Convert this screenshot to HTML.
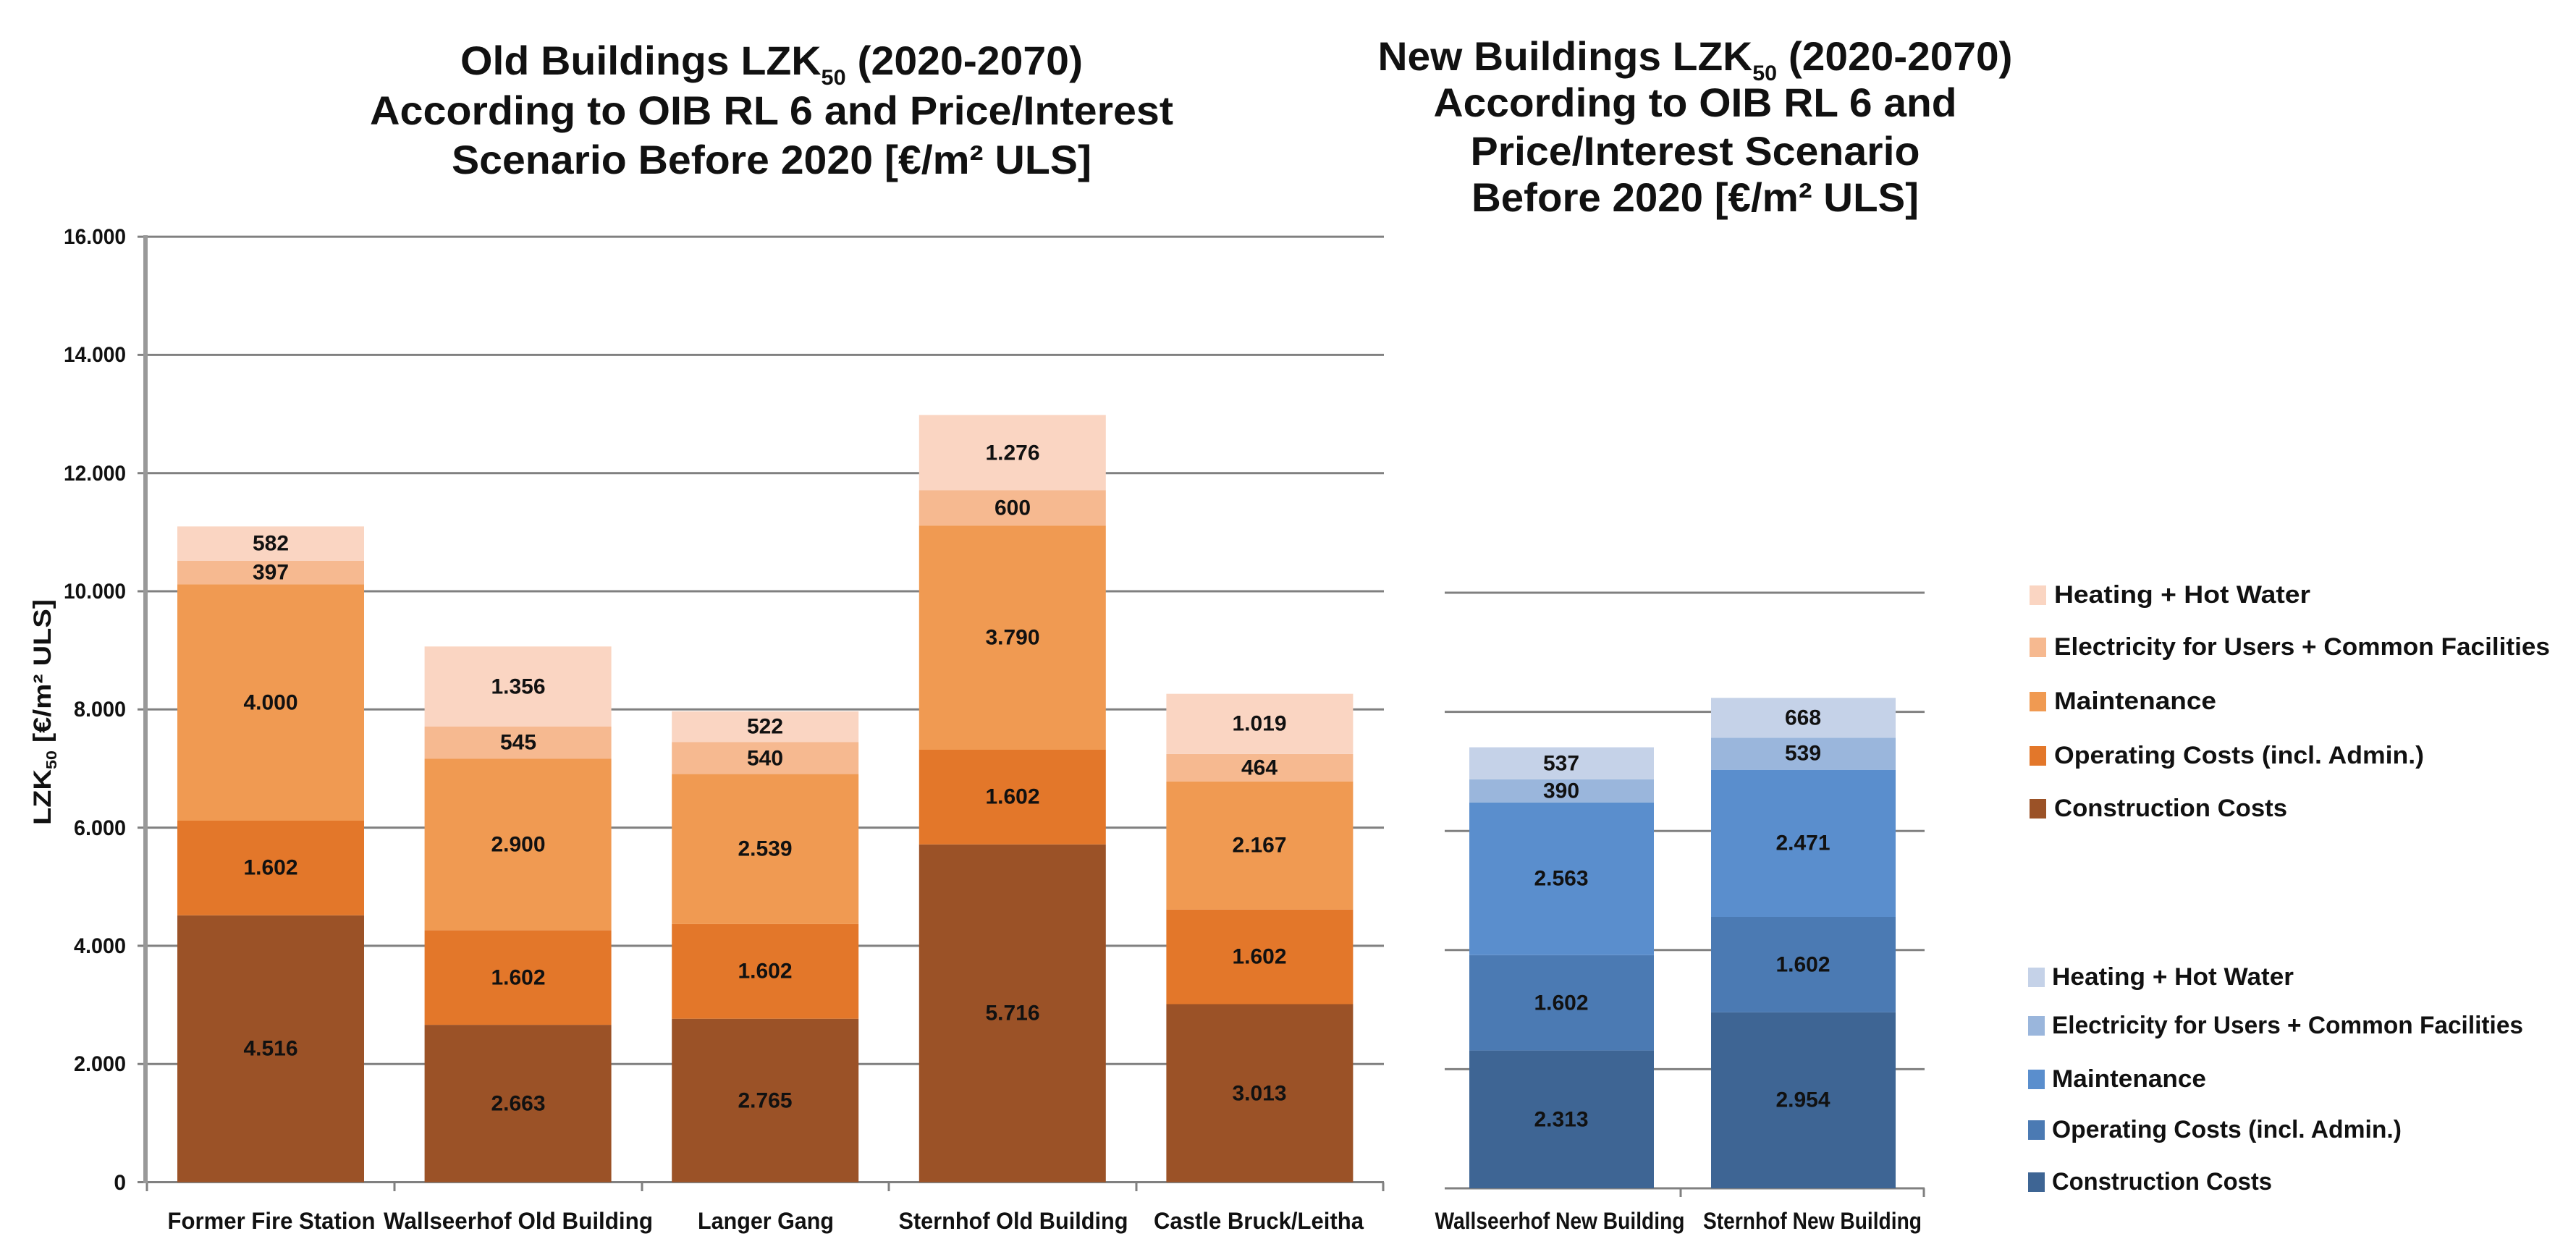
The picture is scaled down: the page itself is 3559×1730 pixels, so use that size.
<!DOCTYPE html>
<html><head><meta charset="utf-8"><style>
html,body{margin:0;padding:0;background:#fff;}
svg{display:block;}
text{font-family:"Liberation Sans",Arial,sans-serif;font-weight:bold;fill:#111;}
.t{font-size:56px;}
.lab{font-size:30px;}
.cat{font-size:32px;}
.tick{font-size:30px;}
.leg{font-size:34px;}
</style></head><body>
<svg width="3559" height="1730" viewBox="0 0 3559 1730" xmlns="http://www.w3.org/2000/svg">
<rect width="3559" height="1730" fill="#fff"/>
<!-- Titles -->
<text class="t" x="1066" y="103" text-anchor="middle" textLength="860" lengthAdjust="spacingAndGlyphs">Old Buildings LZK<tspan font-size="30" dy="14">50</tspan><tspan dy="-14"> (2020-2070)</tspan></text>
<text class="t" x="1066" y="172" text-anchor="middle" textLength="1110" lengthAdjust="spacingAndGlyphs">According to OIB RL 6 and Price/Interest</text>
<text class="t" x="1066" y="240" text-anchor="middle" textLength="884" lengthAdjust="spacingAndGlyphs">Scenario Before 2020 [€/m² ULS]</text>
<text class="t" x="2342" y="97" text-anchor="middle" textLength="877" lengthAdjust="spacingAndGlyphs">New Buildings LZK<tspan font-size="30" dy="14">50</tspan><tspan dy="-14"> (2020-2070)</tspan></text>
<text class="t" x="2342" y="161" text-anchor="middle" textLength="723" lengthAdjust="spacingAndGlyphs">According to OIB RL 6 and</text>
<text class="t" x="2342" y="228" text-anchor="middle" textLength="621" lengthAdjust="spacingAndGlyphs">Price/Interest Scenario</text>
<text class="t" x="2342" y="292" text-anchor="middle" textLength="618" lengthAdjust="spacingAndGlyphs">Before 2020 [€/m² ULS]</text>

<!-- Left gridlines -->
<g stroke="#808080" stroke-width="3">
<line x1="190" y1="327.1" x2="1912" y2="327.1"/>
<line x1="190" y1="490.4" x2="1912" y2="490.4"/>
<line x1="190" y1="653.7" x2="1912" y2="653.7"/>
<line x1="190" y1="817" x2="1912" y2="817"/>
<line x1="190" y1="980.3" x2="1912" y2="980.3"/>
<line x1="190" y1="1143.6" x2="1912" y2="1143.6"/>
<line x1="190" y1="1306.9" x2="1912" y2="1306.9"/>
<line x1="190" y1="1470.2" x2="1912" y2="1470.2"/>
<line x1="190" y1="1633.5" x2="1912" y2="1633.5"/>
<line x1="203" y1="1633.5" x2="203" y2="1646"/>
<line x1="545" y1="1633.5" x2="545" y2="1646"/>
<line x1="887" y1="1633.5" x2="887" y2="1646"/>
<line x1="1228" y1="1633.5" x2="1228" y2="1646"/>
<line x1="1570" y1="1633.5" x2="1570" y2="1646"/>
<line x1="1911" y1="1633.5" x2="1911" y2="1646"/>
</g>
<line x1="201" y1="325" x2="201" y2="1635" stroke="#999" stroke-width="6"/>
<!-- Y ticks -->
<g class="tick" text-anchor="end">
<text class="tick" x="174" y="337" textLength="86" lengthAdjust="spacingAndGlyphs">16.000</text>
<text class="tick" x="174" y="500" textLength="86" lengthAdjust="spacingAndGlyphs">14.000</text>
<text class="tick" x="174" y="664" textLength="86" lengthAdjust="spacingAndGlyphs">12.000</text>
<text class="tick" x="174" y="827" textLength="86" lengthAdjust="spacingAndGlyphs">10.000</text>
<text class="tick" x="174" y="990" textLength="72" lengthAdjust="spacingAndGlyphs">8.000</text>
<text class="tick" x="174" y="1154" textLength="72" lengthAdjust="spacingAndGlyphs">6.000</text>
<text class="tick" x="174" y="1317" textLength="72" lengthAdjust="spacingAndGlyphs">4.000</text>
<text class="tick" x="174" y="1480" textLength="72" lengthAdjust="spacingAndGlyphs">2.000</text>
<text class="tick" x="174" y="1644">0</text>
</g>
<text x="70" y="984" font-size="34" text-anchor="middle" transform="rotate(-90 70 984)" textLength="312" lengthAdjust="spacingAndGlyphs">LZK<tspan font-size="20" dy="8">50</tspan><tspan dy="-8"> [€/m² ULS]</tspan></text>

<!-- Left bars -->
<g>
<rect x="245" y="1264.8" width="258" height="368.7" fill="#9b5227"/>
<rect x="245" y="1134" width="258" height="130.8" fill="#e3772a"/>
<rect x="245" y="807.4" width="258" height="326.6" fill="#f09a52"/>
<rect x="245" y="775" width="258" height="32.4" fill="#f6b990"/>
<rect x="245" y="727.4" width="258" height="47.6" fill="#fad5c2"/>

<rect x="586.6" y="1416.1" width="258" height="217.4" fill="#9b5227"/>
<rect x="586.6" y="1285.3" width="258" height="130.8" fill="#e3772a"/>
<rect x="586.6" y="1048.5" width="258" height="236.8" fill="#f09a52"/>
<rect x="586.6" y="1004" width="258" height="44.5" fill="#f6b990"/>
<rect x="586.6" y="893.3" width="258" height="110.7" fill="#fad5c2"/>

<rect x="928.2" y="1407.7" width="258" height="225.8" fill="#9b5227"/>
<rect x="928.2" y="1276.9" width="258" height="130.8" fill="#e3772a"/>
<rect x="928.2" y="1069.6" width="258" height="207.3" fill="#f09a52"/>
<rect x="928.2" y="1025.5" width="258" height="44.1" fill="#f6b990"/>
<rect x="928.2" y="982.9" width="258" height="42.6" fill="#fad5c2"/>

<rect x="1269.8" y="1166.8" width="258" height="466.7" fill="#9b5227"/>
<rect x="1269.8" y="1036" width="258" height="130.8" fill="#e3772a"/>
<rect x="1269.8" y="726.5" width="258" height="309.5" fill="#f09a52"/>
<rect x="1269.8" y="677.5" width="258" height="49" fill="#f6b990"/>
<rect x="1269.8" y="573.4" width="258" height="104.1" fill="#fad5c2"/>

<rect x="1611.4" y="1387.5" width="258" height="246" fill="#9b5227"/>
<rect x="1611.4" y="1256.7" width="258" height="130.8" fill="#e3772a"/>
<rect x="1611.4" y="1079.7" width="258" height="177" fill="#f09a52"/>
<rect x="1611.4" y="1041.9" width="258" height="37.8" fill="#f6b990"/>
<rect x="1611.4" y="958.7" width="258" height="83.2" fill="#fad5c2"/>
</g>
<g class="lab" text-anchor="middle" dominant-baseline="central">
<text class="lab" x="374" y="1449">4.516</text><text class="lab" x="374" y="1199">1.602</text><text class="lab" x="374" y="971">4.000</text><text class="lab" x="374" y="791">397</text><text class="lab" x="374" y="751">582</text>
<text class="lab" x="716" y="1525">2.663</text><text class="lab" x="716" y="1351">1.602</text><text class="lab" x="716" y="1167">2.900</text><text class="lab" x="716" y="1026">545</text><text class="lab" x="716" y="949">1.356</text>
<text class="lab" x="1057" y="1521">2.765</text><text class="lab" x="1057" y="1342">1.602</text><text class="lab" x="1057" y="1173">2.539</text><text class="lab" x="1057" y="1048">540</text><text class="lab" x="1057" y="1004">522</text>
<text class="lab" x="1399" y="1400">5.716</text><text class="lab" x="1399" y="1101">1.602</text><text class="lab" x="1399" y="881">3.790</text><text class="lab" x="1399" y="702">600</text><text class="lab" x="1399" y="626">1.276</text>
<text class="lab" x="1740" y="1511">3.013</text><text class="lab" x="1740" y="1322">1.602</text><text class="lab" x="1740" y="1168">2.167</text><text class="lab" x="1740" y="1061">464</text><text class="lab" x="1740" y="1000">1.019</text>
</g>
<g class="cat" text-anchor="middle">
<text class="cat" x="375" y="1698" textLength="287" lengthAdjust="spacingAndGlyphs">Former Fire Station</text>
<text class="cat" x="716" y="1698" textLength="372" lengthAdjust="spacingAndGlyphs">Wallseerhof Old Building</text>
<text class="cat" x="1058" y="1698" textLength="188" lengthAdjust="spacingAndGlyphs">Langer Gang</text>
<text class="cat" x="1400" y="1698" textLength="317" lengthAdjust="spacingAndGlyphs">Sternhof Old Building</text>
<text class="cat" x="1739" y="1698" textLength="290" lengthAdjust="spacingAndGlyphs">Castle Bruck/Leitha</text>
</g>

<!-- Right gridlines -->
<g stroke="#808080" stroke-width="3">
<line x1="1996" y1="819" x2="2659" y2="819"/>
<line x1="1996" y1="983.6" x2="2659" y2="983.6"/>
<line x1="1996" y1="1148.2" x2="2659" y2="1148.2"/>
<line x1="1996" y1="1312.8" x2="2659" y2="1312.8"/>
<line x1="1996" y1="1477.4" x2="2659" y2="1477.4"/>
<line x1="1996" y1="1642" x2="2659" y2="1642"/>
<line x1="2322" y1="1642" x2="2322" y2="1654"/>
<line x1="2658" y1="1642" x2="2658" y2="1654"/>
</g>
<g>
<rect x="2030" y="1451.6" width="255" height="190.4" fill="#3e6594"/>
<rect x="2030" y="1319.8" width="255" height="131.8" fill="#4b7ab3"/>
<rect x="2030" y="1108.9" width="255" height="210.9" fill="#5a8ecd"/>
<rect x="2030" y="1076.8" width="255" height="32.1" fill="#9ab6dc"/>
<rect x="2030" y="1032.6" width="255" height="44.2" fill="#c5d2e8"/>

<rect x="2364" y="1398.9" width="255" height="243.1" fill="#3e6594"/>
<rect x="2364" y="1267" width="255" height="131.9" fill="#4b7ab3"/>
<rect x="2364" y="1063.7" width="255" height="203.3" fill="#5a8ecd"/>
<rect x="2364" y="1019.3" width="255" height="44.4" fill="#9ab6dc"/>
<rect x="2364" y="964.3" width="255" height="55" fill="#c5d2e8"/>
</g>
<g class="lab" text-anchor="middle" dominant-baseline="central" style="fill:#14213a">
<text class="lab" x="2157" y="1547" fill="#14213a">2.313</text><text class="lab" x="2157" y="1386" fill="#14213a">1.602</text><text class="lab" x="2157" y="1214" fill="#14213a">2.563</text><text class="lab" x="2157" y="1093" fill="#14213a">390</text><text class="lab" x="2157" y="1055" fill="#14213a">537</text>
<text class="lab" x="2491" y="1520" fill="#14213a">2.954</text><text class="lab" x="2491" y="1333" fill="#14213a">1.602</text><text class="lab" x="2491" y="1165" fill="#14213a">2.471</text><text class="lab" x="2491" y="1041" fill="#14213a">539</text><text class="lab" x="2491" y="992" fill="#14213a">668</text>
</g>
<g class="cat" text-anchor="middle">
<text class="cat" x="2155" y="1698" textLength="345" lengthAdjust="spacingAndGlyphs">Wallseerhof New Building</text>
<text class="cat" x="2504" y="1698" textLength="302" lengthAdjust="spacingAndGlyphs">Sternhof New Building</text>
</g>

<!-- Legend 1 -->
<rect x="2804" y="809" width="23" height="27" fill="#fad5c2"/>
<rect x="2804" y="881" width="23" height="27" fill="#f6b990"/>
<rect x="2804" y="956" width="23" height="27" fill="#f09a52"/>
<rect x="2804" y="1031" width="23" height="27" fill="#e3772a"/>
<rect x="2804" y="1104" width="23" height="27" fill="#9b5227"/>
<g class="leg" dominant-baseline="central">
<text class="leg" x="2838" y="822" textLength="354" lengthAdjust="spacingAndGlyphs">Heating + Hot Water</text>
<text class="leg" x="2838" y="894" textLength="685" lengthAdjust="spacingAndGlyphs">Electricity for Users + Common Facilities</text>
<text class="leg" x="2838" y="969" textLength="224" lengthAdjust="spacingAndGlyphs">Maintenance</text>
<text class="leg" x="2838" y="1044" textLength="511" lengthAdjust="spacingAndGlyphs">Operating Costs (incl. Admin.)</text>
<text class="leg" x="2838" y="1117" textLength="322" lengthAdjust="spacingAndGlyphs">Construction Costs</text>
</g>
<!-- Legend 2 -->
<rect x="2802" y="1337" width="23" height="27" fill="#c5d2e8"/>
<rect x="2802" y="1404" width="23" height="27" fill="#9ab6dc"/>
<rect x="2802" y="1478" width="23" height="27" fill="#5a8ecd"/>
<rect x="2802" y="1548" width="23" height="27" fill="#4b7ab3"/>
<rect x="2802" y="1620" width="23" height="27" fill="#3e6594"/>
<g class="leg" dominant-baseline="central">
<text class="leg" x="2835" y="1350" textLength="334" lengthAdjust="spacingAndGlyphs">Heating + Hot Water</text>
<text class="leg" x="2835" y="1417" textLength="651" lengthAdjust="spacingAndGlyphs">Electricity for Users + Common Facilities</text>
<text class="leg" x="2835" y="1491" textLength="213" lengthAdjust="spacingAndGlyphs">Maintenance</text>
<text class="leg" x="2835" y="1561" textLength="483" lengthAdjust="spacingAndGlyphs">Operating Costs (incl. Admin.)</text>
<text class="leg" x="2835" y="1633" textLength="304" lengthAdjust="spacingAndGlyphs">Construction Costs</text>
</g>
</svg>
</body></html>
